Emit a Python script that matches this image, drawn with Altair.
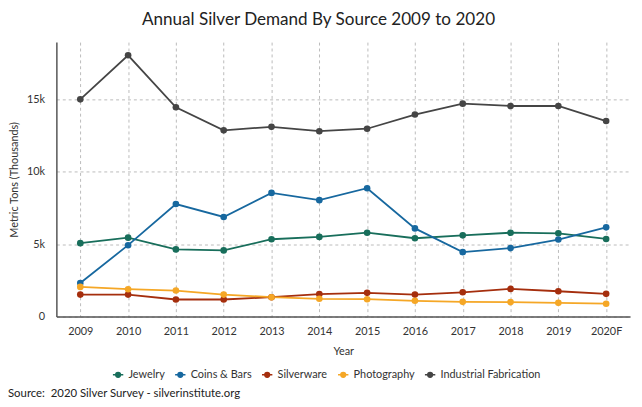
import altair as alt
import pandas as pd

years = ["2009", "2010", "2011", "2012", "2013", "2014", "2015", "2016", "2017", "2018", "2019", "2020F"]
series_names = ["Jewelry", "Coins & Bars", "Silverware", "Photography", "Industrial Fabrication"]
jewelry = [5070, 5450, 4640, 4570, 5340, 5500, 5790, 5410, 5610, 5790, 5750, 5360]
coins_bars = [2320, 4930, 7770, 6880, 8540, 8040, 8860, 6090, 4450, 4730, 5320, 6160]
silverware = [1520, 1520, 1180, 1180, 1340, 1550, 1640, 1520, 1680, 1910, 1750, 1570]
photography = [2050, 1890, 1800, 1520, 1340, 1230, 1200, 1090, 1020, 1000, 950, 890]
industrial = [15000, 18040, 14450, 12860, 13100, 12800, 12970, 13950, 14700, 14540, 14540, 13500]
colors = ["#186e5b", "#17689f", "#a52e0d", "#f5a726", "#454545"]
source_text = "Source:\u00a0 2020 Silver Survey - silverinstitute.org"

rows = []
for name, vals in zip(series_names, [jewelry, coins_bars, silverware, photography, industrial]):
    for y, v in zip(years, vals):
        rows.append({"Year": y, "Source": name, "Value": v})
df = pd.DataFrame(rows)

FONT = "Lato"

legend_symbol = (
    "M-1,0L1,0"
    "M-0.45,0A0.45,0.45,0,1,0,0.45,0A0.45,0.45,0,1,0,-0.45,0"
    "M-0.3,0A0.3,0.3,0,1,0,0.3,0A0.3,0.3,0,1,0,-0.3,0"
    "M-0.15,0A0.15,0.15,0,1,0,0.15,0A0.15,0.15,0,1,0,-0.15,0"
)

x_enc = alt.X("Year:O", sort=years,
              scale=alt.Scale(type="point", padding=0.5),
              axis=alt.Axis(title="Year", labelAngle=0, tickSize=0, labelPadding=9,
                            titlePadding=9, grid=True))
y_enc = alt.Y("Value:Q", scale=alt.Scale(domain=[0, 18950], nice=False),
              axis=alt.Axis(title="Metric Tons (Thousands)", values=[0, 5000, 10000, 15000],
                            labelExpr="datum.value == 0 ? '0' : format(datum.value, '~s')",
                            tickSize=0, labelPadding=12, titlePadding=7, grid=True))
color_enc = alt.Color("Source:N",
                      scale=alt.Scale(domain=series_names, range=colors),
                      legend=alt.Legend(
                          title=None, orient="none", direction="horizontal", columns=5,
                          legendX=56, legendY=330,
                          symbolType=legend_symbol,
                          symbolSize=110, symbolStrokeWidth=1.6,
                          labelFont=FONT, labelFontSize=11, labelColor="#333",
                          columnPadding=7, labelOffset=4))

lines = alt.Chart(df).mark_line(
    strokeWidth=1.8, point=alt.OverlayMarkDef(filled=True, size=45, opacity=1)
).encode(x=x_enc, y=y_enc, color=color_enc)

source = alt.Chart(pd.DataFrame({"t": [source_text]})).mark_text(
    align="left", baseline="middle", font=FONT, fontSize=11.5, color="#222"
).encode(text="t:N", x=alt.value(-49), y=alt.value(356))

chart = alt.layer(lines, source).properties(
    width=581, height=278,
    autosize=alt.AutoSizeParams(type="none"),
    padding={"left": 49, "top": 32, "right": 4, "bottom": 88},
    title=alt.TitleParams("Annual Silver Demand By Source 2009 to 2020", font=FONT,
                          fontSize=17.3, fontWeight="normal", color="#222",
                          anchor="middle", dx=-25, offset=14),
).configure_view(stroke=None).configure_axis(
    labelFont=FONT, titleFont=FONT, labelFontSize=11, titleFontSize=11,
    labelColor="#333", titleColor="#333", titleFontWeight="normal",
    domainColor="#555", domainWidth=1.5,
    gridColor="#bbbbbb", gridDash=[3, 3], gridWidth=1,
)

chart.save("out.html", embed_options={"renderer": "svg", "actions": False})
